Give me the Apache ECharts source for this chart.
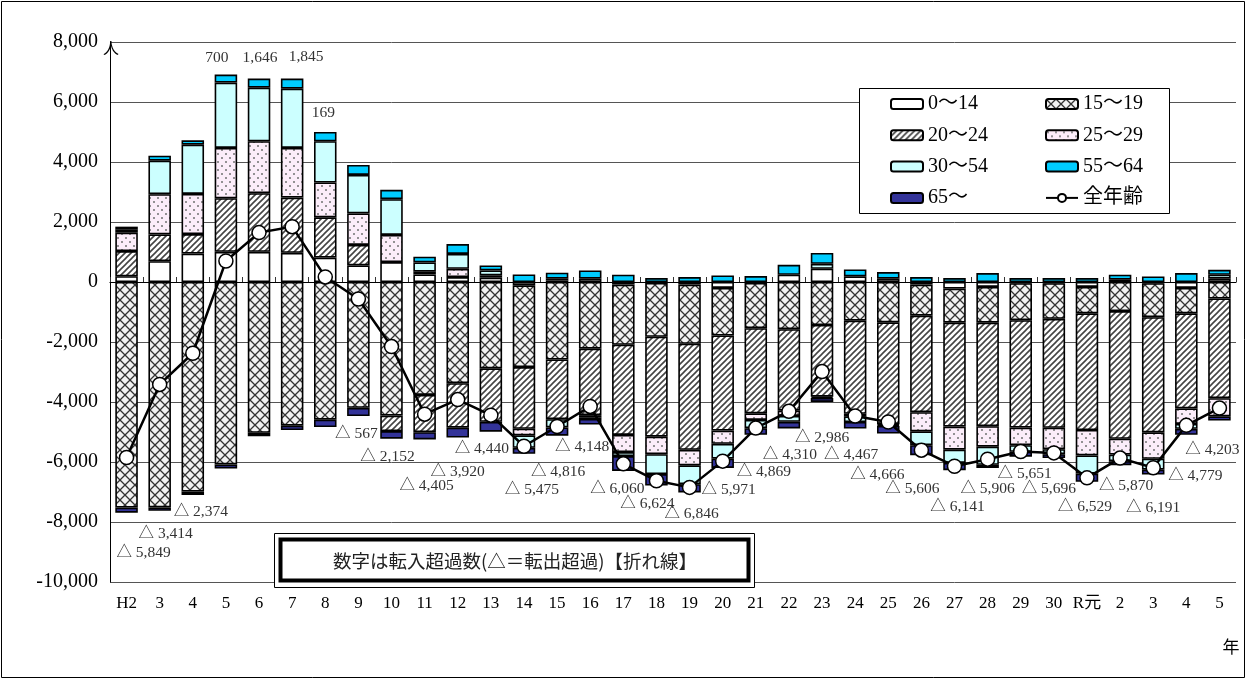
<!DOCTYPE html>
<html><head><meta charset="utf-8">
<script src="https://cdn.jsdelivr.net/npm/echarts@6/dist/echarts.min.js"></script>
<style>html,body{margin:0;padding:0;background:#fff}#c{width:1247px;height:680px}</style>
</head><body><div id="c"></div>
<script>
const categories = ['H2','3','4','5','6','7','8','9','10','11','12','13','14','15','16','17','18','19','20','21','22','23','24','25','26','27','28','29','30','R元','2','3','4','5'];
const age0_14  = [192, 693, 949, 1005, 1005, 972, 815, 552, 663, 253, 165, 143, -110, 55, 110, -88, -30, -88, -198, -30, 242, 441, 189, 110, -88, -220, -165, -40, -40, -165, 77, -40, -198, 110];
const age15_19 = [-7520, -7515, -6986, -6080, -5027, -4790, -4589, -4193, -4453, -3764, -3371, -2879, -2726, -2583, -2224, -2004, -1795, -1971, -1585, -1508, -1574, -1433, -1289, -1344, -1036, -1135, -1190, -1234, -1188, -880, -968, -1133, -847, -550];
const age20_24 = [838, 894, 648, 1787, 1955, 1843, 1340, 685, -517, -1242, -1484, -1781, -2055, -1991, -2213, -3006, -3331, -3534, -3171, -2841, -2714, -2391, -3102, -3394, -3214, -3464, -3450, -3580, -3630, -3889, -4257, -3839, -3168, -3322];
const age25_29 = [614, 1340, 1340, 1676, 1731, 1653, 1162, 1050, 906, 90, 275, 77, -220, 55, -70, -572, -584, -517, -440, -220, -176, -40, -88, -30, -639, -771, -683, -584, -715, -847, -528, -880, -517, -605];
const age30_54 = [112, 1117, 1642, 2178, 1787, 1977, 1374, 1282, 1193, 310, 495, 165, -418, -275, -60, -132, -661, -628, -495, -275, -198, 165, -187, -30, -463, -441, -606, -220, -165, -605, -220, -363, -165, 132];
const age55_64 = [89, 168, 145, 268, 302, 335, 313, 332, 309, 190, 330, 165, 253, 198, 275, 242, 132, 165, 220, 198, 330, 364, 230, 220, 165, 132, 298, 132, 132, 132, 165, 187, 297, 165];
const age65    = [-170, -112, -112, -134, -112, -145, -246, -275, -253, -242, -330, -330, -198, -275, -187, -495, -385, -275, -308, -220, -220, -132, -220, -253, -331, -242, -110, -165, -132, -275, -132, -165, -198, -143];
const allAges  = [-5849, -3414, -2374, 700, 1646, 1845, 169, -567, -2152, -4405, -3920, -4440, -5475, -4816, -4148, -6060, -6624, -6846, -5971, -4869, -4310, -2986, -4467, -4666, -5606, -6141, -5906, -5651, -5696, -6529, -5870, -6191, -4779, -4203];

// label placement (style): pixel offsets of each total label from its point
const labelOffsets = [[17,95],[6,150],[8,159],[-9,-203],[1,-175],[14,-170],[-2,-164],[-2,135],[-4,110],[2,72],[0,72],[-9,34],[8,44],[1,45],[-8,40],[-6,25],[-9,23],[2,27],[6,29],[8,44],[1,44],[0,66],[-4,39],[-11,53],[-9,39],[3,41],[0,30],[4,22],[-5,36],[-2,29],[6,28],[0,40],[9,51],[-7,42]];

const SERIF = "'Liberation Serif','Noto Sans CJK JP',serif";
const JP = "'Noto Sans CJK JP',sans-serif";

function tile(w, h, draw) {
  const c = document.createElement('canvas');
  c.width = w; c.height = h;
  const g = c.getContext('2d');
  draw(g, w, h);
  return { image: c, repeat: 'repeat' };
}
const crossPat = tile(10, 10, (g, w, h) => {
  g.fillStyle = '#f2f2f2'; g.fillRect(0, 0, w, h);
  g.strokeStyle = '#333'; g.lineWidth = 1.3;
  g.beginPath(); g.moveTo(0, 0); g.lineTo(w, h); g.moveTo(w, 0); g.lineTo(0, h); g.stroke();
});
const diagPat = tile(6, 6, (g, w, h) => {
  g.fillStyle = '#ffffff'; g.fillRect(0, 0, w, h);
  g.strokeStyle = '#444'; g.lineWidth = 1.6;
  g.beginPath();
  g.moveTo(0, h); g.lineTo(w, 0);
  g.moveTo(-w / 2, h / 2); g.lineTo(w / 2, -h / 2);
  g.moveTo(w / 2, h * 1.5); g.lineTo(w * 1.5, h / 2);
  g.stroke();
});
const dotPat = tile(8, 8, (g, w, h) => {
  g.fillStyle = '#fcedfa'; g.fillRect(0, 0, w, h);
  g.fillStyle = '#707070';
  g.beginPath(); g.arc(2, 2, 1.0, 0, Math.PI * 2); g.fill();
  g.beginPath(); g.arc(6, 6, 1.0, 0, Math.PI * 2); g.fill();
});

const barDefs = [
  ['0～14', age0_14, '#ffffff'],
  ['15～19', age15_19, crossPat],
  ['20～24', age20_24, diagPat],
  ['25～29', age25_29, dotPat],
  ['30～54', age30_54, '#ccffff'],
  ['55～64', age55_64, '#00ccff'],
  ['65～', age65, '#333399']
];

const series = barDefs.map(([name, data, color]) => ({
  name, type: 'bar', stack: 'all', data, barWidth: '68%',
  itemStyle: { color, borderColor: '#000', borderWidth: 1.6 },
  emphasis: { disabled: true }
}));

const fmt = v => (v < 0 ? '△ ' + Math.abs(v).toLocaleString('en-US') : v.toLocaleString('en-US'));

series.push({
  name: '全年齢', type: 'line', z: 5,
  data: allAges.map((v, i) => ({ value: v, label: { offset: labelOffsets[i] } })),
  lineStyle: { color: '#000', width: 2.5 },
  symbol: 'circle', symbolSize: 14,
  itemStyle: { color: '#fff', borderColor: '#000', borderWidth: 1.5 },
  label: { show: true, position: 'inside', fontSize: 15.5, color: '#333', fontFamily: SERIF, formatter: p => fmt(p.value) },
  emphasis: { disabled: true }
});

const legendText = { fontSize: 20, lineHeight: 20, color: '#000', fontFamily: SERIF };
const chart = echarts.init(document.getElementById('c'));
chart.setOption({
  animation: false,
  backgroundColor: '#fff',
  grid: { left: 110, right: 11, top: 42, bottom: 98 },
  xAxis: [
    { type: 'category', data: categories, position: 'bottom',
      axisLine: { show: false, onZero: false }, axisTick: { show: false },
      axisLabel: { fontSize: 17, margin: 13, color: '#000', fontFamily: SERIF, interval: 0 } },
    { type: 'category', data: categories, position: 'bottom',
      axisLine: { show: true, onZero: true, lineStyle: { color: '#000', width: 1.2 } },
      axisTick: { show: true, inside: true, length: 5, lineStyle: { color: '#333' } },
      axisLabel: { show: false } }
  ],
  yAxis: {
    type: 'value', min: -10000, max: 8000, interval: 2000,
    axisLine: { show: true, lineStyle: { color: '#000' } },
    axisTick: { show: false },
    splitLine: { lineStyle: { color: '#555', width: 1 } },
    axisLabel: { fontSize: 20, color: '#000', margin: 12, fontFamily: SERIF, formatter: v => v.toLocaleString('en-US') }
  },
  legend: [
    { orient: 'vertical', left: 890, top: 94, padding: 0, itemWidth: 32, itemHeight: 10, itemGap: 11.3,
      selectedMode: false, z: 60, data: ['0～14', '20～24', '30～54', '65～'], textStyle: legendText },
    { orient: 'vertical', left: 1045, top: 94, padding: 0, itemWidth: 32, itemHeight: 10, itemGap: 11.3,
      selectedMode: false, z: 60, data: ['15～19', '25～29', '55～64', '全年齢'], textStyle: legendText }
  ],
  graphic: [
    { type: 'rect', z: 1, silent: true, shape: { x: 1.5, y: 1.5, width: 1243, height: 676 }, style: { fill: 'none', stroke: '#000', lineWidth: 1 } },
    { type: 'rect', z: 50, silent: true, shape: { x: 859.5, y: 88.5, width: 310, height: 125 }, style: { fill: '#fff', stroke: '#000', lineWidth: 1 } },
    { type: 'rect', z: 50, silent: true, shape: { x: 274.5, y: 533.5, width: 480, height: 54 }, style: { fill: '#fff', stroke: '#000', lineWidth: 1 } },
    { type: 'rect', z: 51, silent: true, shape: { x: 280.5, y: 539.5, width: 468, height: 41 }, style: { fill: 'none', stroke: '#000', lineWidth: 4 } },
    { type: 'text', z: 52, silent: true, x: 515, y: 561, style: { text: '数字は転入超過数(△＝転出超過)【折れ線】', fontSize: 18.5, fontFamily: JP, fill: '#222', align: 'center', verticalAlign: 'middle' } },
    { type: 'text', z: 52, silent: true, x: 111, y: 48, style: { text: '人', fontSize: 16, fontFamily: JP, fill: '#000', align: 'center', verticalAlign: 'middle' } },
    { type: 'text', z: 52, silent: true, x: 1231, y: 647, style: { text: '年', fontSize: 17, fontFamily: JP, fill: '#000', align: 'center', verticalAlign: 'middle' } }
  ],
  series
});
</script>
</body></html>
